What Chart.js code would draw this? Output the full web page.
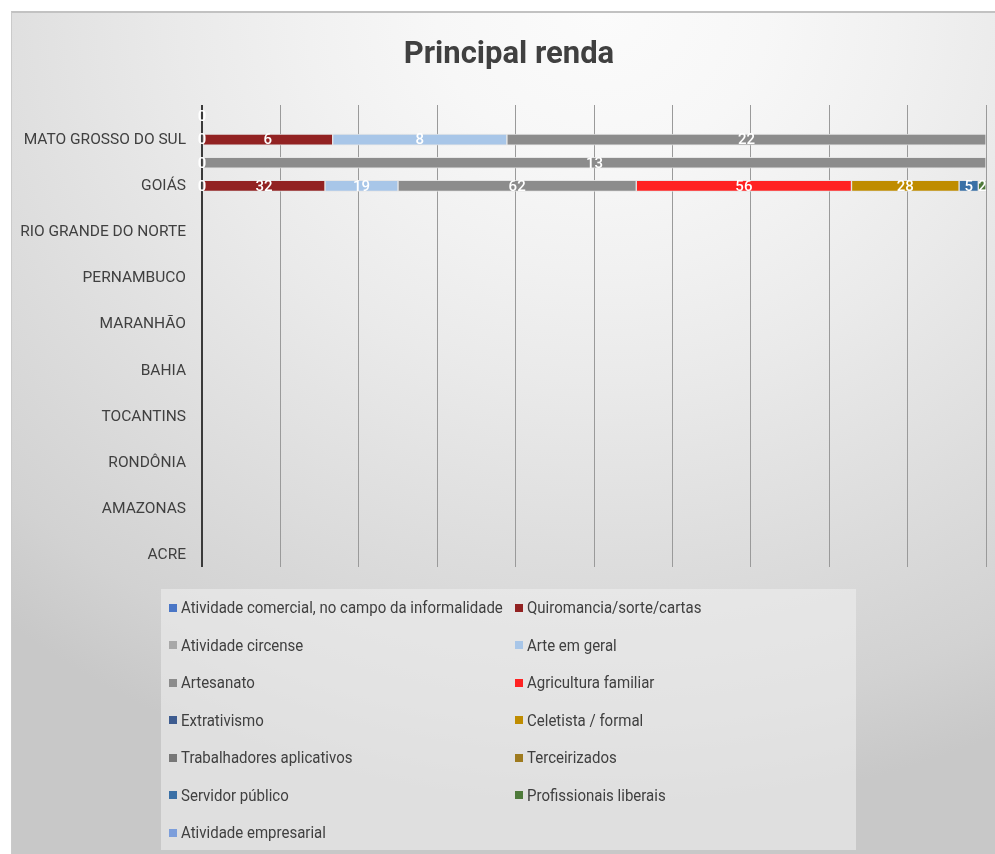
<!DOCTYPE html>
<html>
<head>
<meta charset="utf-8">
<script src="https://cdn.jsdelivr.net/npm/chart.js@4.4.1/dist/chart.umd.min.js"></script>
<style>
    html, body { margin: 0; padding: 0; background: #ffffff; }
    #frame {
        position: absolute; left: 11px; top: 11px; width: 984px; height: 843px;
        border-top: 2px solid #c2c2c2; border-left: 1px solid #cacaca;
        box-sizing: border-box; overflow: hidden;
        background: radial-gradient(ellipse 920px 800px at 590px 0px,
            #fbfbfb 0%, #f7f7f7 18%, #f1f1f1 32%, #eaeaea 46%, #e2e2e2 60%,
            #dadada 74%, #d2d2d2 88%, #c8c8c8 100%);
        font-family: Roboto, "Open Sans", sans-serif;
    }
    #chart { position: absolute; left: 0; top: 0; }
    #title {
        position: absolute; left: 5px; width: 984px; top: 21px; text-align: center;
        font: bold 31px Roboto, "Open Sans", sans-serif; color: #404040;
    }
    #legend {
        position: absolute; left: 149px; top: 576px; width: 695px; height: 261px;
        background: rgba(238, 238, 238, 0.6);
        display: grid; grid-template-columns: 346px 349px; grid-auto-rows: 37.5px;
        box-sizing: border-box;
    }
    .item { display: flex; align-items: center; padding-left: 8px; font-size: 16.5px; color: #404040; white-space: nowrap; }
    .item span.box { width: 8px; height: 8px; margin-right: 4px; display: inline-block; flex: none; }
    .item span.txt { display: inline-block; transform: scaleX(0.91); transform-origin: left center; }
</style>
</head>
<body>
<div id="frame">
    <canvas id="chart" width="984" height="843"></canvas>
    <div id="title">Principal renda</div>
    <div id="legend"></div>
</div>
<script>
// Categorias (de cima para baixo)
var states = [
    'DISTRITO FEDERAL', 'MATO GROSSO DO SUL', 'MATO GROSSO', 'GOIÁS', 'SERGIPE',
    'RIO GRANDE DO NORTE', 'PIAUÍ', 'PERNAMBUCO', 'PARAÍBA', 'MARANHÃO',
    'CEARÁ', 'BAHIA', 'ALAGOAS', 'TOCANTINS', 'RORAIMA',
    'RONDÔNIA', 'PARÁ', 'AMAZONAS', 'AMAPÁ', 'ACRE'
];

// Series names and colours
var seriesNames = [
    'Atividade comercial, no campo da informalidade', 'Quiromancia/sorte/cartas',
    'Atividade circense', 'Arte em geral',
    'Artesanato', 'Agricultura familiar',
    'Extrativismo', 'Celetista / formal',
    'Trabalhadores aplicativos', 'Terceirizados',
    'Servidor público', 'Profissionais liberais',
    'Atividade empresarial'
];
var seriesColors = [
    '#4a76c6', '#922222',
    '#a8a8a8', '#a8c6e8',
    '#8c8c8c', '#ff2222',
    '#3d5b8f', '#bf8c00',
    '#777777', '#9e7a1e',
    '#3a70a6', '#4e7a3a',
    '#7c9edb'
];

// Values per series, same order as states (null = no data)
var _ = null;
var comercial     = [0, 0, 0, 0, _, _, _, _, _, _, _, _, _, _, _, _, _, _, _, _];
var quiromancia   = [_, 6, _, 32, _, _, _, _, _, _, _, _, _, _, _, _, _, _, _, _];
var circense      = [_, _, _, _, _, _, _, _, _, _, _, _, _, _, _, _, _, _, _, _];
var arte          = [_, 8, _, 19, _, _, _, _, _, _, _, _, _, _, _, _, _, _, _, _];
var artesanato    = [_, 22, 13, 62, _, _, _, _, _, _, _, _, _, _, _, _, _, _, _, _];
var agricultura   = [_, _, _, 56, _, _, _, _, _, _, _, _, _, _, _, _, _, _, _, _];
var extrativismo  = [_, _, _, _, _, _, _, _, _, _, _, _, _, _, _, _, _, _, _, _];
var celetista     = [_, _, _, 28, _, _, _, _, _, _, _, _, _, _, _, _, _, _, _, _];
var aplicativos   = [_, _, _, _, _, _, _, _, _, _, _, _, _, _, _, _, _, _, _, _];
var terceirizados = [_, _, _, _, _, _, _, _, _, _, _, _, _, _, _, _, _, _, _, _];
var servidor      = [_, _, _, 5, _, _, _, _, _, _, _, _, _, _, _, _, _, _, _, _];
var liberais      = [_, _, _, 2, _, _, _, _, _, _, _, _, _, _, _, _, _, _, _, _];
var empresarial   = [_, _, _, _, _, _, _, _, _, _, _, _, _, _, _, _, _, _, _, _];

var seriesValues = [comercial, quiromancia, circense, arte, artesanato, agricultura,
    extrativismo, celetista, aplicativos, terceirizados, servidor, liberais, empresarial];

var xTicks = [0, 10, 20, 30, 40, 50, 60, 70, 80, 90, 100];

// Totals per state for the 100% stack
var totals = states.map(function(s, i) {
    var t = 0;
    seriesValues.forEach(function(v) { t += v[i] || 0; });
    return t;
});

var datasets = seriesValues.map(function(values, k) {
    return {
        label: seriesNames[k],
        raw: values,
        data: values.map(function(v, i) {
            if (v === null) return null;
            return totals[i] ? v / totals[i] * 100 : 0;
        }),
        backgroundColor: seriesColors[k],
        borderColor: 'rgba(228,228,228,0.9)',
        borderWidth: 1,
        borderSkipped: false,
        barThickness: 11
    };
});

// Value labels in the middle of each segment
var valueLabels = {
    id: 'valueLabels',
    afterDatasetsDraw: function(chart) {
        var ctx = chart.ctx;
        ctx.save();
        ctx.font = '500 15px Roboto, sans-serif';
        ctx.fillStyle = '#ffffff';
        ctx.textAlign = 'center';
        ctx.textBaseline = 'middle';
        chart.data.datasets.forEach(function(ds, k) {
            var meta = chart.getDatasetMeta(k);
            meta.data.forEach(function(el, i) {
                if (ds.raw[i] === null) return;
                var p = el.getCenterPoint();
                ctx.fillText(String(ds.raw[i]), p.x, p.y + 1);
            });
        });
        ctx.restore();
    }
};

var chart = new Chart(document.getElementById('chart'), {
    type: 'bar',
    data: { labels: states, datasets: datasets },
    plugins: [valueLabels],
    options: {
        indexAxis: 'y',
        responsive: false,
        animation: false,
        layout: { padding: { top: 92, bottom: 289, left: 0, right: 10 } },
        plugins: {
            legend: { display: false },
            title: { display: false },
            tooltip: { enabled: false }
        },
        scales: {
            x: {
                stacked: true,
                min: 0,
                max: 100,
                afterBuildTicks: function(scale) {
                    scale.ticks = xTicks.map(function(v) { return { value: v }; });
                },
                ticks: { display: false },
                border: { display: false },
                grid: {
                    color: function(c) { return c.index === 0 ? '#3a3a3a' : '#9a9a9a'; },
                    lineWidth: function(c) { return c.index === 0 ? 2 : 1; },
                    drawTicks: false
                }
            },
            y: {
                stacked: true,
                afterFit: function(scale) { scale.width = 190; },
                border: { display: false },
                grid: { display: false },
                ticks: {
                    autoSkip: false,
                    color: '#404040',
                    padding: 8,
                    font: { family: 'Roboto, "Open Sans", sans-serif', size: 15.5 },
                    callback: function(value, index) {
                        return index % 2 === 1 ? states[index] : '';
                    }
                }
            }
        }
    }
});

// HTML legend, built from the datasets
var legend = document.getElementById('legend');
chart.data.datasets.forEach(function(ds) {
    var item = document.createElement('div');
    item.className = 'item';
    item.innerHTML = '<span class="box" style="background:' + ds.backgroundColor + '"></span>' +
        '<span class="txt">' + ds.label + '</span>';
    legend.appendChild(item);
});
</script>
</body>
</html>
